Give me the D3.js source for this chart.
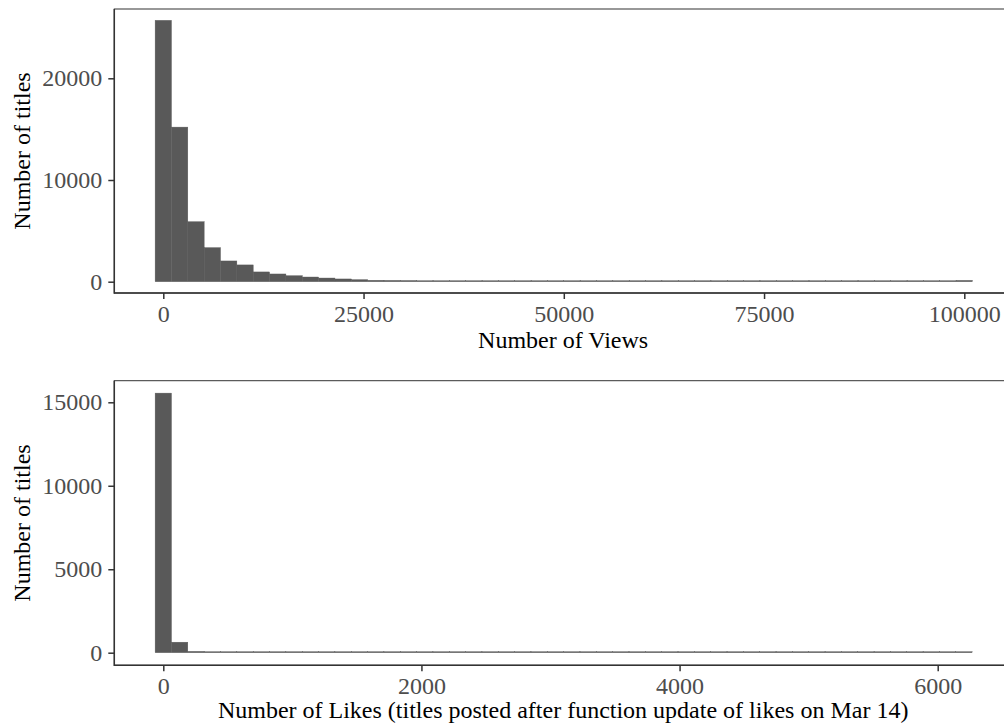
<!DOCTYPE html>
<head>
  <meta charset="UTF-8">
  <title>histograms</title>
  <style>
  body{
    margin: 0;
    background: #fff;
  }
  text{
    font-family: "Liberation Serif", "DejaVu Serif", serif;
  }
  </style>
</head>
<body>
  <script src="https://cdn.jsdelivr.net/npm/d3@7"></script>
  <script type="text/javascript">
  // views histogram: 50 bins, bin centres start at 0
  var viewsBinWidth = 2040.8;
  var viewsCounts = [25700, 15200, 5900, 3350, 2040, 1650, 960, 760, 590, 460,
    360, 270, 200, 140, 130, 120, 60, 45, 35, 30,
    25, 20, 15, 12, 10, 8, 7, 6, 5, 5,
    4, 4, 3, 3, 3, 2, 2, 2, 2, 1,
    1, 1, 1, 1, 1, 0, 1, 0, 0, 130];
  var viewsTicks = [0, 25000, 50000, 75000, 100000];
  var viewsYTicks = [0, 10000, 20000];

  // likes histogram: 50 bins
  var likesBinWidth = 126.6;
  var likesCounts = [15550, 630, 80, 35, 15, 10, 8, 6, 5, 4,
    3, 3, 2, 2, 2, 1, 1, 1, 1, 1,
    1, 1, 0, 1, 0, 1, 0, 0, 1, 0,
    0, 1, 0, 0, 0, 1, 0, 0, 0, 0,
    1, 0, 0, 0, 0, 0, 0, 0, 0, 1];
  var likesTicks = [0, 2000, 4000, 6000];
  var likesYTicks = [0, 5000, 10000, 15000];

  var W = 1004, H = 727;
  var svg = d3.select('body').append('svg')
    .attr('width', W)
    .attr('height', H);

  function panel(o){
    var g = svg.append('g');
    var x = d3.scaleLinear().domain(o.xDom).range(o.xRange);
    var y = d3.scaleLinear().domain(o.yDom).range(o.yRange);

    //面板边框
    g.append('rect')
      .attr('x', o.left).attr('y', o.top)
      .attr('width', o.right - o.left).attr('height', o.bottom - o.top)
      .attr('fill', 'none').attr('stroke', '#333').attr('stroke-width', 1);

    var bins = o.counts.map(function(c, i){ return {c: c, x0: (i - 0.5) * o.bw, x1: (i + 0.5) * o.bw}; });
    var hgt = function(d){ return Math.max(y(0) - y(d.c), 1); };
    g.selectAll('rect.bar')
      .data(bins)
      .enter()
      .append('rect')
      .attr('class', 'bar')
      .attr('x', function(d){ return x(d.x0); })
      .attr('width', function(d){ return x(d.x1) - x(d.x0); })
      .attr('y', function(d){ return y(0) - hgt(d); })
      .attr('height', hgt)
      .attr('fill', '#595959')
      .attr('stroke', '#595959')
      .attr('stroke-width', 0.4);

    var xa = g.append('g')
      .attr('transform', 'translate(0,' + o.bottom + ')')
      .call(d3.axisBottom(x).tickValues(o.xTicks).tickFormat(d3.format('d')).tickSize(6).tickSizeOuter(0).tickPadding(6));
    var ya = g.append('g')
      .attr('transform', 'translate(' + o.left + ',0)')
      .call(d3.axisLeft(y).tickValues(o.yTicks).tickFormat(d3.format('d')).tickSize(6).tickSizeOuter(0).tickPadding(6));
    [xa, ya].forEach(function(a){
      a.select('.domain').remove();
      a.selectAll('line').attr('stroke', '#333').attr('stroke-width', 1.5);
      a.selectAll('text').attr('fill', '#4d4d4d').style('font-size', '24px')
        .style('font-family', '"Liberation Serif", serif');
    });

    //坐标轴线
    g.append('line').attr('x1', o.left).attr('x2', o.left).attr('y1', o.top).attr('y2', o.bottom + 0.75)
      .attr('stroke', '#333').attr('stroke-width', 1.5);
    g.append('line').attr('x1', o.left).attr('x2', o.right).attr('y1', o.bottom).attr('y2', o.bottom)
      .attr('stroke', '#333').attr('stroke-width', 1.5);

    g.append('text')
      .attr('x', (o.left + 1004) / 2 + 4).attr('y', o.xTitleY)
      .attr('text-anchor', 'middle').style('font-size', '24px').attr('fill', '#000')
      .text(o.xTitle);
    g.append('text')
      .attr('transform', 'translate(30,' + ((o.top + o.bottom) / 2) + ') rotate(-90)')
      .attr('text-anchor', 'middle').style('font-size', '24px').attr('fill', '#000')
      .text('Number of titles');
  }

  panel({
    counts: viewsCounts, bw: viewsBinWidth,
    xDom: [0, 100000], xRange: [163.3, 964.3],
    yDom: [0, 20000], yRange: [281.7, 78.3],
    xTicks: viewsTicks, yTicks: viewsYTicks,
    left: 114.3, right: 1012, top: 9, bottom: 293,
    xTitle: 'Number of Views', xTitleY: 348
  });

  panel({
    counts: likesCounts, bw: likesBinWidth,
    xDom: [0, 6000], xRange: [163.3, 937.7],
    yDom: [0, 15000], yRange: [652.7, 402.3],
    xTicks: likesTicks, yTicks: likesYTicks,
    left: 114.3, right: 1012, top: 380.7, bottom: 665.3,
    xTitle: 'Number of Likes (titles posted after function update of likes on Mar 14)', xTitleY: 718
  });
  </script>
</body>
</html>
